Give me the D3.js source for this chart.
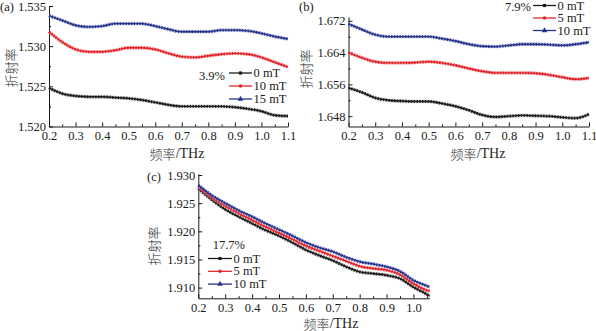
<!DOCTYPE html>
<html>
<head>
<meta charset="UTF-8">
<title>折射率-频率</title>
<script src="https://d3js.org/d3.v7.min.js"></script>
<style>
  body { margin: 0; background: #fff; }
  svg text { font-family: "Liberation Serif", "Noto Sans CJK SC", serif; fill: #1a1a1a; }
</style>
</head>
<body>
<script>
var w = 596;
var h = 331;

// frequency grid (THz)
var freqAB = [0.2, 0.25, 0.3, 0.35, 0.4, 0.45, 0.5, 0.55, 0.6, 0.65, 0.7, 0.75, 0.8, 0.85, 0.9, 0.95, 1.0, 1.05, 1.1];
var freqC = [0.2, 0.25, 0.3, 0.35, 0.4, 0.45, 0.5, 0.55, 0.6, 0.65, 0.7, 0.75, 0.8, 0.85, 0.9, 0.95, 1.0, 1.05, 1.06];

// (a) 3.9%
var a0 = [1.5248, 1.5241, 1.5238, 1.5237, 1.5237, 1.5236, 1.5235, 1.5233, 1.5230, 1.5227, 1.5225, 1.5225, 1.5225, 1.5225, 1.5224, 1.5222, 1.5219, 1.5214, 1.5213];
var a10 = [1.5318, 1.5305, 1.5296, 1.5293, 1.5293, 1.5295, 1.5298, 1.5298, 1.5296, 1.5291, 1.5287, 1.5286, 1.5288, 1.5290, 1.5291, 1.5290, 1.5286, 1.5280, 1.5274];
var a15 = [1.5338, 1.5332, 1.5326, 1.5324, 1.5325, 1.5328, 1.5328, 1.5328, 1.5325, 1.5321, 1.5318, 1.5318, 1.5318, 1.5320, 1.5320, 1.5319, 1.5316, 1.5312, 1.5309];

// (b) 7.9%
var b0 = [1.6551, 1.6540, 1.6526, 1.6520, 1.6518, 1.6517, 1.6517, 1.6512, 1.6505, 1.6495, 1.6483, 1.6478, 1.6480, 1.6482, 1.6481, 1.6480, 1.6477, 1.6475, 1.6485];
var b5 = [1.6640, 1.6627, 1.6617, 1.6614, 1.6614, 1.6615, 1.6617, 1.6614, 1.6608, 1.6600, 1.6593, 1.6589, 1.6589, 1.6589, 1.6588, 1.6584, 1.6578, 1.6573, 1.6576];
var b10 = [1.6712, 1.6698, 1.6685, 1.6680, 1.6680, 1.6680, 1.6680, 1.6675, 1.6669, 1.6661, 1.6656, 1.6655, 1.6658, 1.6661, 1.6661, 1.6660, 1.6658, 1.6661, 1.6666];

// (c) 17.7%
var c0 = [1.9276, 1.9256, 1.9239, 1.9226, 1.9214, 1.9202, 1.9192, 1.9180, 1.9167, 1.9157, 1.9148, 1.9137, 1.9128, 1.9125, 1.9122, 1.9116, 1.9101, 1.9088, 1.9085];
var c5 = [1.9279, 1.9260, 1.9245, 1.9232, 1.9220, 1.9208, 1.9197, 1.9186, 1.9174, 1.9165, 1.9156, 1.9147, 1.9138, 1.9134, 1.9131, 1.9123, 1.9107, 1.9095, 1.9094];
var c10 = [1.9282, 1.9264, 1.9250, 1.9237, 1.9226, 1.9214, 1.9203, 1.9192, 1.9180, 1.9171, 1.9164, 1.9154, 1.9146, 1.9142, 1.9137, 1.9129, 1.9113, 1.9103, 1.9101];

// tick values
var xTicksAB = [0.2, 0.3, 0.4, 0.5, 0.6, 0.7, 0.8, 0.9, 1.0, 1.1];
var xTicksC = [0.2, 0.3, 0.4, 0.5, 0.6, 0.7, 0.8, 0.9, 1.0];
var xMinor = [0.25, 0.35, 0.45, 0.55, 0.65, 0.75, 0.85, 0.95, 1.05];
var yTicksA = [1.520, 1.525, 1.530, 1.535];
var yMinorA = [1.5225, 1.5275, 1.5325];
var yTicksB = [1.648, 1.656, 1.664, 1.672];
var yMinorB = [1.652, 1.660, 1.668];
var yTicksC = [1.910, 1.915, 1.920, 1.925, 1.930];
var yMinorC = [1.9125, 1.9175, 1.9225, 1.9275];

var BLACK = "#1c1c1c", RED = "#e0262b", BLUE = "#27348b";

var svg = d3.select("body").append("svg")
    .attr("width", w)
    .attr("height", h);

function legendMark(g, kind, color, x, y) {
    var shape = kind == "sq" ? d3.symbolSquare : (kind == "ci" ? d3.symbolCircle : d3.symbolTriangle);
    g.append("path")
        .attr("d", d3.symbol().type(shape).size(kind == "tr" ? 14 : 10)())
        .attr("transform", "translate(" + x + "," + y + ")")
        .attr("fill", color);
}

function drawPanel(p) {
    var g = svg.append("g");
    var x = d3.scaleLinear().domain(p.xDomain).range([p.left, p.right]);
    var y = d3.scaleLinear().domain(p.yDomain).range([p.bottom, p.top]);

    // minor ticks
    g.append("g")
        .attr("transform", "translate(0," + p.bottom + ")")
        .call(d3.axisBottom(x).tickValues(p.xMinor.filter(function(v){ return v < p.xDomain[1]; }))
            .tickSize(-2).tickFormat(""))
        .call(function(s){ s.select(".domain").remove(); });
    g.append("g")
        .attr("transform", "translate(" + p.left + ",0)")
        .call(d3.axisLeft(y).tickValues(p.yMinor).tickSize(-2).tickFormat(""))
        .call(function(s){ s.select(".domain").remove(); });

    // main axes, ticks pointing inward
    var xa = g.append("g")
        .attr("transform", "translate(0," + p.bottom + ")")
        .call(d3.axisBottom(x).tickValues(p.xTicks).tickSizeInner(-4).tickSizeOuter(0)
            .tickPadding(5).tickFormat(d3.format(".1f")));
    var ya = g.append("g")
        .attr("transform", "translate(" + p.left + ",0)")
        .call(d3.axisLeft(y).tickValues(p.yTicks).tickSizeInner(-4).tickSizeOuter(0)
            .tickPadding(3).tickFormat(d3.format(".3f")));
    [xa, ya].forEach(function(a){
        a.selectAll("text").attr("font-size", "12.5px").attr("font-family", "Liberation Serif").attr("fill", "#262626");
        a.selectAll("line,path").attr("stroke", "#1a1a1a").attr("stroke-width", 1);
    });

    // series: thin line plus a beaded overlay for the dense markers
    var line = d3.line()
        .x(function(d){ return x(d[0]); })
        .y(function(d){ return y(d[1]); })
        .curve(d3.curveMonotoneX);

    p.series.forEach(function(s){
        var pts = p.freq.map(function(f, i){ return [f, s.vals[i]]; });
        g.append("path").datum(pts)
            .attr("d", line).attr("fill", "none")
            .attr("stroke", s.halo).attr("stroke-width", 3.8).attr("opacity", 0.45);
        g.append("path").datum(pts)
            .attr("d", line).attr("fill", "none")
            .attr("stroke", s.color).attr("stroke-width", 1.4);
        g.append("path").datum(pts)
            .attr("d", line).attr("fill", "none")
            .attr("stroke", s.color).attr("stroke-width", 2.8)
            .attr("stroke-dasharray", "1.4 1.4");
    });

    // legend
    var L = p.legend;
    g.append("text")
        .attr("x", L.pctX).attr("y", L.pctY)
        .attr("text-anchor", "end").attr("dominant-baseline", "central")
        .attr("font-size", "12.5px")
        .text(L.pct);
    p.series.forEach(function(s, i){
        var ly = L.y + i * L.dy;
        g.append("line")
            .attr("x1", L.x).attr("x2", L.x + L.len)
            .attr("y1", ly).attr("y2", ly)
            .attr("stroke", s.color).attr("stroke-width", 1.3);
        legendMark(g, s.mark, s.color, L.x + L.len / 2, ly);
        g.append("text")
            .attr("x", L.x + L.len + 1.5).attr("y", ly)
            .attr("dominant-baseline", "central")
            .attr("font-size", "12.5px")
            .text(s.name);
    });

    // panel tag and titles
    g.append("text").attr("x", p.tag[0]).attr("y", p.tag[1])
        .attr("font-size", "12.5px").text(p.tagText);
    g.append("text")
        .attr("transform", "translate(" + p.yTitle[0] + "," + p.yTitle[1] + ") rotate(-90)")
        .attr("text-anchor", "middle").attr("dominant-baseline", "central")
        .attr("font-size", "13px").attr("font-family", "Noto Sans CJK SC")
        .attr("font-weight", 300).attr("fill", "#333")
        .text("折射率");
    var xt = g.append("text")
        .attr("x", p.xTitle[0]).attr("y", p.xTitle[1])
        .attr("text-anchor", "middle").attr("dominant-baseline", "central")
        .attr("font-size", "13px");
    xt.append("tspan").attr("font-family", "Noto Sans CJK SC").attr("font-weight", 300)
        .attr("fill", "#333").text("频率");
    xt.append("tspan").attr("font-size", "14px").attr("fill", "#262626").text("/THz");
}

drawPanel({
    left: 49, right: 288, bottom: 126.5, top: 6,
    xDomain: [0.2, 1.1], yDomain: [1.520, 1.535],
    xTicks: xTicksAB, xMinor: xMinor, yTicks: yTicksA, yMinor: yMinorA,
    freq: freqAB,
    series: [
        {vals: a0, color: BLACK, halo: "#a0a0a0", mark: "sq", name: "0 mT"},
        {vals: a10, color: RED, halo: "#f3a0a3", mark: "ci", name: "10 mT"},
        {vals: a15, color: BLUE, halo: "#a8b0d8", mark: "tr", name: "15 mT"}
    ],
    legend: {pct: "3.9%", pctX: 225, pctY: 76, x: 229, y: 73, dy: 13, len: 23},
    tagText: "(a)", tag: [0, 11],
    yTitle: [11, 68], xTitle: [177, 153]
});

drawPanel({
    left: 348.5, right: 589, bottom: 126.5, top: 16.8,
    xDomain: [0.2, 1.1], yDomain: [1.6454, 1.673],
    xTicks: xTicksAB, xMinor: xMinor, yTicks: yTicksB, yMinor: yMinorB,
    freq: freqAB,
    series: [
        {vals: b0, color: BLACK, halo: "#a0a0a0", mark: "sq", name: "0 mT"},
        {vals: b5, color: RED, halo: "#f3a0a3", mark: "ci", name: "5 mT"},
        {vals: b10, color: BLUE, halo: "#a8b0d8", mark: "tr", name: "10 mT"}
    ],
    legend: {pct: "7.9%", pctX: 531, pctY: 7, x: 533, y: 5.5, dy: 12.5, len: 23},
    tagText: "(b)", tag: [299, 11],
    yTitle: [306.5, 69], xTitle: [478, 153]
});

drawPanel({
    left: 198.3, right: 429.6, bottom: 298.3, top: 173.9,
    xDomain: [0.2, 1.06], yDomain: [1.9081, 1.9302],
    xTicks: xTicksC, xMinor: xMinor, yTicks: yTicksC, yMinor: yMinorC,
    freq: freqC,
    series: [
        {vals: c0, color: BLACK, halo: "#a0a0a0", mark: "sq", name: "0 mT"},
        {vals: c5, color: RED, halo: "#f3a0a3", mark: "ci", name: "5 mT"},
        {vals: c10, color: BLUE, halo: "#a8b0d8", mark: "tr", name: "10 mT"}
    ],
    legend: {pct: "17.7%", pctX: 245, pctY: 245, x: 208, y: 258.5, dy: 12.8, len: 24},
    tagText: "(c)", tag: [147, 181],
    yTitle: [154, 246], xTitle: [331, 323]
});
</script>
</body>
</html>
